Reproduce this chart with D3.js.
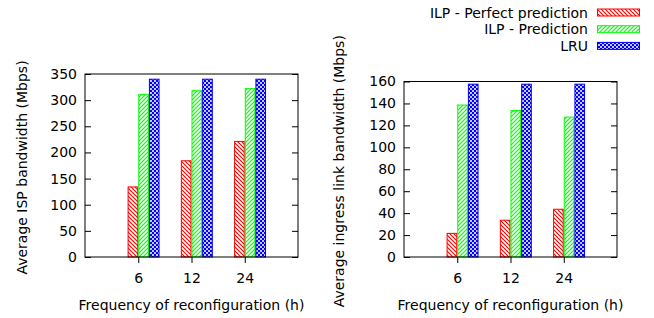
<!DOCTYPE html>
<html>
<head>
<meta charset="utf-8">
<script src="https://cdn.jsdelivr.net/npm/d3@7"></script>
<style>
  body { margin: 0; background: #fff; }
  text { font-family: "DejaVu Sans", sans-serif; fill: #000; }
</style>
</head>
<body>
<div id="chart"></div>
<script>
// categories and series
const categories = ["6", "12", "24"];
const seriesNames = ["ILP - Perfect prediction", "ILP - Prediction", "LRU"];
const ispPerfect = [135, 185, 222];
const ispPrediction = [312, 319, 323];
const ispLRU = [341, 341, 341];
const ingressPerfect = [22, 34, 44];
const ingressPrediction = [139, 134, 128];
const ingressLRU = [158, 158, 158];
const ispTicks = [0, 50, 100, 150, 200, 250, 300, 350];
const ingressTicks = [0, 20, 40, 60, 80, 100, 120, 140, 160];

const colors = ["#ff0000", "#00ff00", "#0000ff"];
const patternIds = ["pRed", "pGreen", "pBlue"];
const fontSize = 14;

const svg = d3.select("#chart").append("svg")
    .attr("width", 654)
    .attr("height", 318);

// fill patterns like gnuplot
const defs = svg.append("defs");
const pr = defs.append("pattern").attr("id", "pRed")
    .attr("patternUnits", "userSpaceOnUse").attr("width", 4).attr("height", 4);
pr.append("rect").attr("width", 4).attr("height", 4).attr("fill", "#fff");
pr.append("path").attr("d", "M-1,-1L5,5M-1,3L1,5M3,-1L5,1")
    .attr("stroke", colors[0]).attr("stroke-width", 1.2);

const pg = defs.append("pattern").attr("id", "pGreen")
    .attr("patternUnits", "userSpaceOnUse").attr("width", 4).attr("height", 4);
pg.append("rect").attr("width", 4).attr("height", 4).attr("fill", "#fff");
pg.append("path").attr("d", "M-1,5L5,-1M-1,1L1,-1M3,5L5,3")
    .attr("stroke", colors[1]).attr("stroke-width", 1.2);

const pb = defs.append("pattern").attr("id", "pBlue")
    .attr("patternUnits", "userSpaceOnUse").attr("width", 4).attr("height", 4);
pb.append("rect").attr("width", 4).attr("height", 4).attr("fill", "#c8c8ff");
pb.append("rect").attr("width", 2).attr("height", 2).attr("fill", colors[2]);
pb.append("rect").attr("x", 2).attr("y", 2).attr("width", 2).attr("height", 2).attr("fill", colors[2]);

function drawPanel(opt) {
    const x = d3.scaleLinear().domain([-1, 3]).range([opt.left, opt.right]);
    const y = d3.scaleLinear().domain([0, opt.max]).range([opt.bottom, opt.top]);
    const g = svg.append("g");

    const series = [opt.a, opt.b, opt.c];
    const bw = 0.2;
    series.forEach((vals, s) => {
        g.selectAll(null)
            .data(vals)
            .enter()
            .append("rect")
            .attr("x", (d, i) => x(i - bw + s * bw) + 0.5)
            .attr("y", d => y(d) + 0.5)
            .attr("width", x(bw) - x(0) - 1)
            .attr("height", d => y(0) - y(d) - 0.5)
            .attr("fill", `url(#${patternIds[s]})`)
            .attr("stroke", colors[s])
            .attr("stroke-width", 1);
    });

    // y axis, ticks inside, mirrored right
    const yl = g.append("g").attr("transform", `translate(${opt.left},0)`)
        .call(d3.axisLeft(y).tickValues(opt.ticks).tickSize(-6).tickPadding(8));
    const yr = g.append("g").attr("transform", `translate(${opt.right},0)`)
        .call(d3.axisRight(y).tickValues(opt.ticks).tickSize(-6).tickFormat(""));
    const xb = g.append("g").attr("transform", `translate(0,${opt.bottom})`)
        .call(d3.axisBottom(x).tickValues([0, 1, 2]).tickFormat(i => categories[i])
            .tickSize(6).tickPadding(10));
    [yl, yr, xb].forEach(a => {
        a.select(".domain").remove();
        a.selectAll("line").attr("stroke", "#000");
        a.selectAll("text").attr("font-size", fontSize).style("font-family", "DejaVu Sans");
    });

    g.append("rect")
        .attr("x", opt.left).attr("y", opt.top)
        .attr("width", opt.right - opt.left).attr("height", opt.bottom - opt.top)
        .attr("fill", "none").attr("stroke", "#000").attr("stroke-width", 1);

    g.append("text")
        .attr("x", (opt.left + opt.right) / 2).attr("y", 310)
        .attr("text-anchor", "middle").attr("font-size", fontSize)
        .text("Frequency of reconfiguration (h)");

    g.append("text")
        .attr("transform", `translate(${opt.ylabelX},${(opt.top + opt.bottom) / 2 + 2}) rotate(-90)`)
        .attr("text-anchor", "middle").attr("font-size", fontSize)
        .text(opt.ylabel);
}

drawPanel({left: 85, right: 298, top: 74, bottom: 257, max: 350, ticks: ispTicks,
    a: ispPerfect, b: ispPrediction, c: ispLRU, ylabelX: 27,
    ylabel: "Average ISP bandwidth (Mbps)"});
drawPanel({left: 404, right: 617, top: 81.5, bottom: 257, max: 160, ticks: ingressTicks,
    a: ingressPerfect, b: ingressPrediction, c: ingressLRU, ylabelX: 344,
    ylabel: "Average ingress link bandwidth (Mbps)"});

// legend
const legend = svg.append("g");
seriesNames.forEach((name, s) => {
    const cy = 12.5 + s * 16.7;
    legend.append("text")
        .attr("x", 588).attr("y", cy + 5)
        .attr("text-anchor", "end").attr("font-size", fontSize)
        .text(name);
    legend.append("rect")
        .attr("x", 597.5).attr("y", cy - 3.5)
        .attr("width", 42).attr("height", 7)
        .attr("fill", `url(#${patternIds[s]})`)
        .attr("stroke", colors[s]).attr("stroke-width", 1);
});
</script>
</body>
</html>
